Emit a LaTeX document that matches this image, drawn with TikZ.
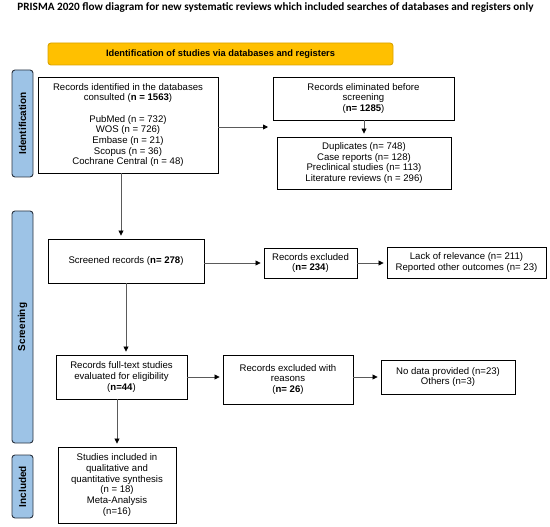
\documentclass[tikz,border=0pt]{standalone}
\usepackage{fontspec}
\setmainfont{Liberation Sans}
\newfontfamily\titlefont{Carlito}
\usetikzlibrary{arrows.meta}
\definecolor{bannerfill}{HTML}{FFC000}
\definecolor{bannerdraw}{HTML}{D9A200}
\definecolor{sidefill}{HTML}{9DC3E6}
\definecolor{sidedraw}{HTML}{2B3440}
\definecolor{linegray}{HTML}{5A5A5A}
\tikzset{
  box/.style={draw=black, line width=0.9pt, fill=white, align=center, inner sep=1pt,
    font=\fontsize{9.6}{10.7}\selectfont},
  side/.style={draw=sidedraw, line width=0.9pt, fill=sidefill, rounded corners=3pt,
    minimum width=21pt, inner sep=0pt, font=\fontsize{10}{11}\selectfont\bfseries},
  arr/.style={draw=linegray, line width=0.8pt, -{Triangle[width=5pt,length=5pt,black]}, shorten >=3pt},
}
\begin{document}
\begin{tikzpicture}[x=1pt,y=-1pt]
\useasboundingbox (0,0) rectangle (550,527);
\node[font=\titlefont\fontsize{11.2}{12}\selectfont\bfseries] (title) at (275.5,8) {PRISMA 2020 flow diagram for new systematic reviews which included searches of databases and registers only};
\node[draw=bannerdraw, line width=0.9pt, fill=bannerfill, rounded corners=3pt, minimum width=345pt, minimum height=22pt, inner sep=0pt, font=\fontsize{9.3}{10.7}\selectfont\bfseries] (banner) at (220.5,54) {Identification of studies via databases and registers};

\node[side, minimum height=107pt] (sideA) at (22.5,123.5) {\rotatebox{90}{Identification}};
\node[side, minimum height=232pt] (sideB) at (22.5,327) {\rotatebox{90}{Screening}};
\node[side, minimum height=63pt] (sideC) at (22.5,486.5) {\rotatebox{90}{Included}};

\node[box, minimum width=180pt, minimum height=96pt] (ident) at (128,125) {Records identified in the databases\\consulted (\textbf{n = 1563})\\[10.7pt]PubMed (n = 732)\\WOS (n = 726)\\Embase (n = 21)\\Scopus (n = 36)\\Cochrane Central (n = 48)};
\node[box, minimum width=181pt, minimum height=43pt] (elim) at (363.5,98.5) {Records eliminated before\\screening\\(\textbf{n= 1285})};
\node[box, minimum width=174pt, minimum height=52pt] (dup) at (364,163) {Duplicates (n= 748)\\Case reports (n= 128)\\Preclinical studies (n= 113)\\Literature reviews (n = 296)};
\node[box, minimum width=156pt, minimum height=44pt] (screened) at (126,261) {Screened records (\textbf{n= 278})};
\node[box, minimum width=93pt, minimum height=30pt] (excl) at (310.5,263) {Records excluded\\(\textbf{n= 234})};
\node[box, minimum width=159pt, minimum height=31pt] (lack) at (466.5,262.5) {Lack of relevance (n= 211)\\Reported other outcomes (n= 23)};
\node[box, minimum width=131pt, minimum height=44pt] (full) at (121.5,377) {Records full-text studies\\evaluated for eligibility\\(\textbf{n=44})};
\node[box, minimum width=130pt, minimum height=49pt] (exclr) at (288,379.5) {Records excluded with\\reasons\\(\textbf{n= 26})};
\node[box, minimum width=134pt, minimum height=34pt] (nodata) at (448,377) {No data provided (n=23)\\Others (n=3)};
\node[box, minimum width=118pt, minimum height=76pt] (incl) at (117,485) {Studies included in\\qualitative and\\quantitative synthesis\\(n = 18)\\Meta-Analysis\\(n=16)};

\coordinate (gap) at (271,127);
\draw[arr] (ident.east |- gap) -- (gap);
\draw[arr] (elim.south -| dup.north) -- (dup.north);
\draw[arr] ([xshift=-7pt]ident.south) -- ([xshift=-5pt]screened.north);
\draw[arr] (screened.east |- excl.west) -- (excl.west);
\draw[arr] (excl.east) -- (excl.east -| lack.west);
\draw[arr] (screened.south) -- (screened.south |- full.north);
\draw[arr] (full.east |- nodata.west) -- (exclr.west |- nodata.west);
\draw[arr] (exclr.east |- nodata.west) -- (nodata.west);
\draw[arr] (incl.north |- full.south) -- (incl.north);
\end{tikzpicture}
\end{document}
